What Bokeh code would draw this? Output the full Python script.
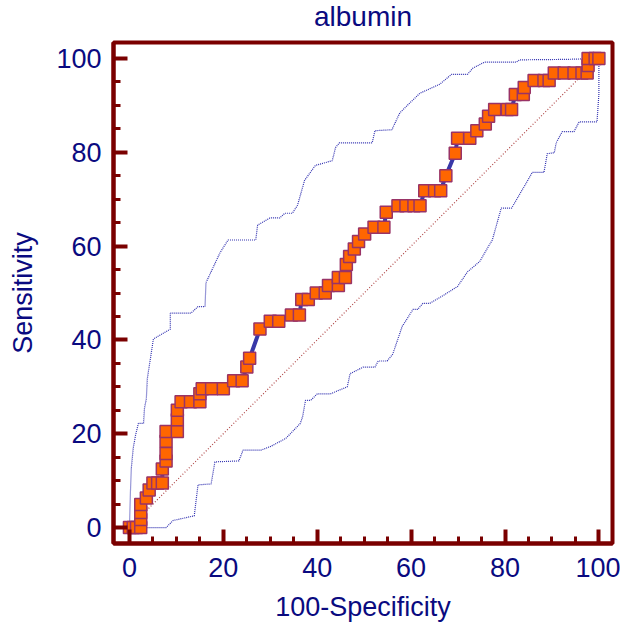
from bokeh.plotting import figure
from bokeh.models import FixedTicker, Range1d, Title
from bokeh.embed import file_html
from bokeh.resources import INLINE

# ROC curve points (100-Specificity, Sensitivity)
roc_fpr = [0, 0.8, 1.5, 2.4, 2.4, 2.4, 2.4, 3.6, 4.2, 5, 6, 7, 7, 7.8, 7.8, 7.8, 7.8,
           10.2, 10.2, 10.2, 11, 13, 15, 15, 15.5, 17.5, 20, 22.2, 24, 25, 25.6, 27.8,
           30, 31.8, 34.5, 36.2, 36.7, 38.1, 39.8, 41.7, 42.4, 44.5, 44.5, 46, 46.2,
           46.9, 47.9, 48.8, 50.1, 52.1, 54.2, 54.7, 57.2, 58.9, 60.6, 61.9, 62.9, 65,
           66.3, 67.4, 69.4, 69.9, 72.5, 74, 75.8, 76.5, 77.8, 80.5, 81.4, 82.2, 83.9,
           84.1, 86.2, 88.3, 89.4, 90.5, 92.6, 94.7, 96.4, 97.5, 97.7, 97.7, 99.2, 100]
roc_tpr = [0, 0, 0, 0, 1.7, 3.2, 4.9, 6.3, 8, 9.5, 9.5, 9.5, 12.5, 14.2, 15.8, 18.4, 20.5,
           20.5, 23, 25, 26.8, 26.8, 26.8, 28.5, 29.6, 29.6, 29.6, 31.3, 31.3, 34.2, 36.1, 42.3,
           44, 44, 45.3, 45.3, 48.6, 48.6, 50, 50, 51.6, 51.6, 53.3, 53.3, 56.1,
           57.8, 59.4, 61, 62.6, 64, 64, 67.2, 68.6, 68.6, 68.6, 68.6, 71.8, 71.8,
           71.8, 75, 79.8, 83, 83, 84.6, 86, 87.7, 89.1, 89.1, 89.1, 92.3, 92.3,
           93.8, 95.3, 95.3, 95.3, 96.9, 96.9, 96.9, 96.9, 96.9, 98.5, 100, 100, 100]

# Upper confidence band
upper_x = [0, 0.2, 0.4, 0.8, 1.3, 1.9, 3.0, 3.2, 3.6, 3.8, 5.1, 8.7, 8.7, 13.1, 14.6, 16.1,
           16.3, 19.3, 21.0, 26.9, 27.3, 29.9, 32.0, 33.1, 34.7, 35.8, 37.3, 39.6, 43.2,
           43.9, 44.7, 51.7, 52.3, 55.9, 57.6, 59.7, 61.9, 66.1, 68.6, 72.0, 73.1, 75.6,
           82.4, 83.1, 93.0, 100]
upper_y = [0, 7.4, 12.7, 16.9, 19.7, 22.2, 22.2, 25.4, 27.5, 31.7, 40.2, 42.3, 45.7, 45.7,
           47.1, 47.1, 52.2, 58.6, 61.3, 61.3, 64.5, 66.0, 66.0, 67.0, 67.0, 68.7, 74.0,
           77.2, 78.2, 81.0, 82.0, 82.0, 84.6, 84.8, 88.4, 90.5, 92.6, 94.5, 96.6, 96.6,
           97.9, 99.2, 99.2, 99.7, 99.8, 100]

# Lower confidence band
lower_x = [0, 7.8, 9.3, 13.8, 14.6, 17.4, 18.2, 23.3, 24.2, 28.0, 30.1, 33.3, 36.4, 36.9,
           37.5, 38.6, 40.0, 42.8, 46.4, 47.0, 49.8, 52.3, 53.0, 54.9, 56.1, 58.1, 58.7,
           60.4, 61.4, 62.5, 64.0, 67.2, 69.9, 72.0, 74.6, 76.7, 77.3, 79.2, 81.4, 84.5,
           85.8, 88.3, 89.0, 90.5, 90.9, 92.2, 94.7, 95.8, 99.6, 100, 100]
lower_y = [0, 0, 1.5, 2.5, 9.1, 9.3, 14.0, 14.2, 16.5, 16.5, 17.3, 19.0, 22.2, 23.7,
           27.1, 27.1, 28.5, 28.5, 30.0, 32.8, 34.2, 34.2, 35.5, 35.5, 37.0, 42.9, 43.8,
           46.5, 46.5, 47.8, 47.8, 49.7, 51.4, 54.5, 56.7, 60.3, 61.3, 68.1, 68.1, 73.4,
           75.7, 75.7, 79.7, 79.9, 82.0, 84.4, 84.4, 86.5, 86.5, 92.4, 100]

diag = [0, 100]
major_ticks = [0, 20, 40, 60, 80, 100]
minor_ticks = [0, 5, 10, 15, 20, 25, 30, 35, 40, 45, 50, 55, 60, 65, 70, 75, 80, 85, 90, 95, 100]

title_text = "albumin"
x_label = "100-Specificity"
y_label = "Sensitivity"

FONT = "Liberation Sans"
NAVY = "#0A0A80"
MAROON = "#7A0000"
FS = "27px"

p = figure(width=620, height=625, output_backend="svg", toolbar_location=None,
           x_range=Range1d(-3.4, 102.9), y_range=Range1d(-3.4, 103.4),
           min_border_left=113, min_border_right=8, min_border_top=41, min_border_bottom=82,
           title=title_text)

p.title.align = "center"
p.title.vertical_align = "top"
p.title.text_font = FONT
p.title.text_font_size = "28px"
p.title.text_font_style = "normal"
p.title.text_color = NAVY
p.title.standoff = 0

# thin spacer panel between the title and the frame
p.add_layout(Title(text=" ", text_font_size="1px", standoff=6), "above")

p.xgrid.visible = False
p.ygrid.visible = False
p.background_fill_color = "white"
p.border_fill_color = "white"
p.outline_line_color = MAROON
p.outline_line_width = 4

for ax in (p.xaxis[0], p.yaxis[0]):
    ax.ticker = FixedTicker(ticks=major_ticks, minor_ticks=minor_ticks)
    ax.axis_line_color = MAROON
    ax.axis_line_width = 4
    ax.major_tick_line_color = MAROON
    ax.major_tick_line_width = 4
    ax.minor_tick_line_color = MAROON
    ax.minor_tick_line_width = 3
    ax.major_tick_in = 14
    ax.major_tick_out = 0
    ax.minor_tick_in = 7
    ax.minor_tick_out = 0
    ax.major_label_text_font = FONT
    ax.major_label_text_font_size = FS
    ax.major_label_text_color = NAVY
    ax.axis_label_text_font = FONT
    ax.axis_label_text_font_size = FS
    ax.axis_label_text_font_style = "normal"
    ax.axis_label_text_color = NAVY

p.xaxis.axis_label = x_label
p.yaxis.axis_label = y_label
p.xaxis.major_label_standoff = 14
p.yaxis.major_label_standoff = 12
p.xaxis.axis_label_standoff = 12
p.yaxis.axis_label_standoff = 15

# diagonal reference
p.line(diag, diag, line_color="#B04848", line_width=1.2, line_dash="1 2")
# confidence bands
p.line(upper_x, upper_y, line_color="#3030B0", line_width=1.2, line_dash="1 1")
p.line(lower_x, lower_y, line_color="#3030B0", line_width=1.2, line_dash="1 1")
# ROC curve
p.line(roc_fpr, roc_tpr, line_color="#3838A8", line_width=4)
p.scatter(roc_fpr, roc_tpr, marker="square", size=12, fill_color="#FF6600",
          line_color="#993366", line_width=1.5)

open("out.html", "w").write(file_html(p, INLINE))
